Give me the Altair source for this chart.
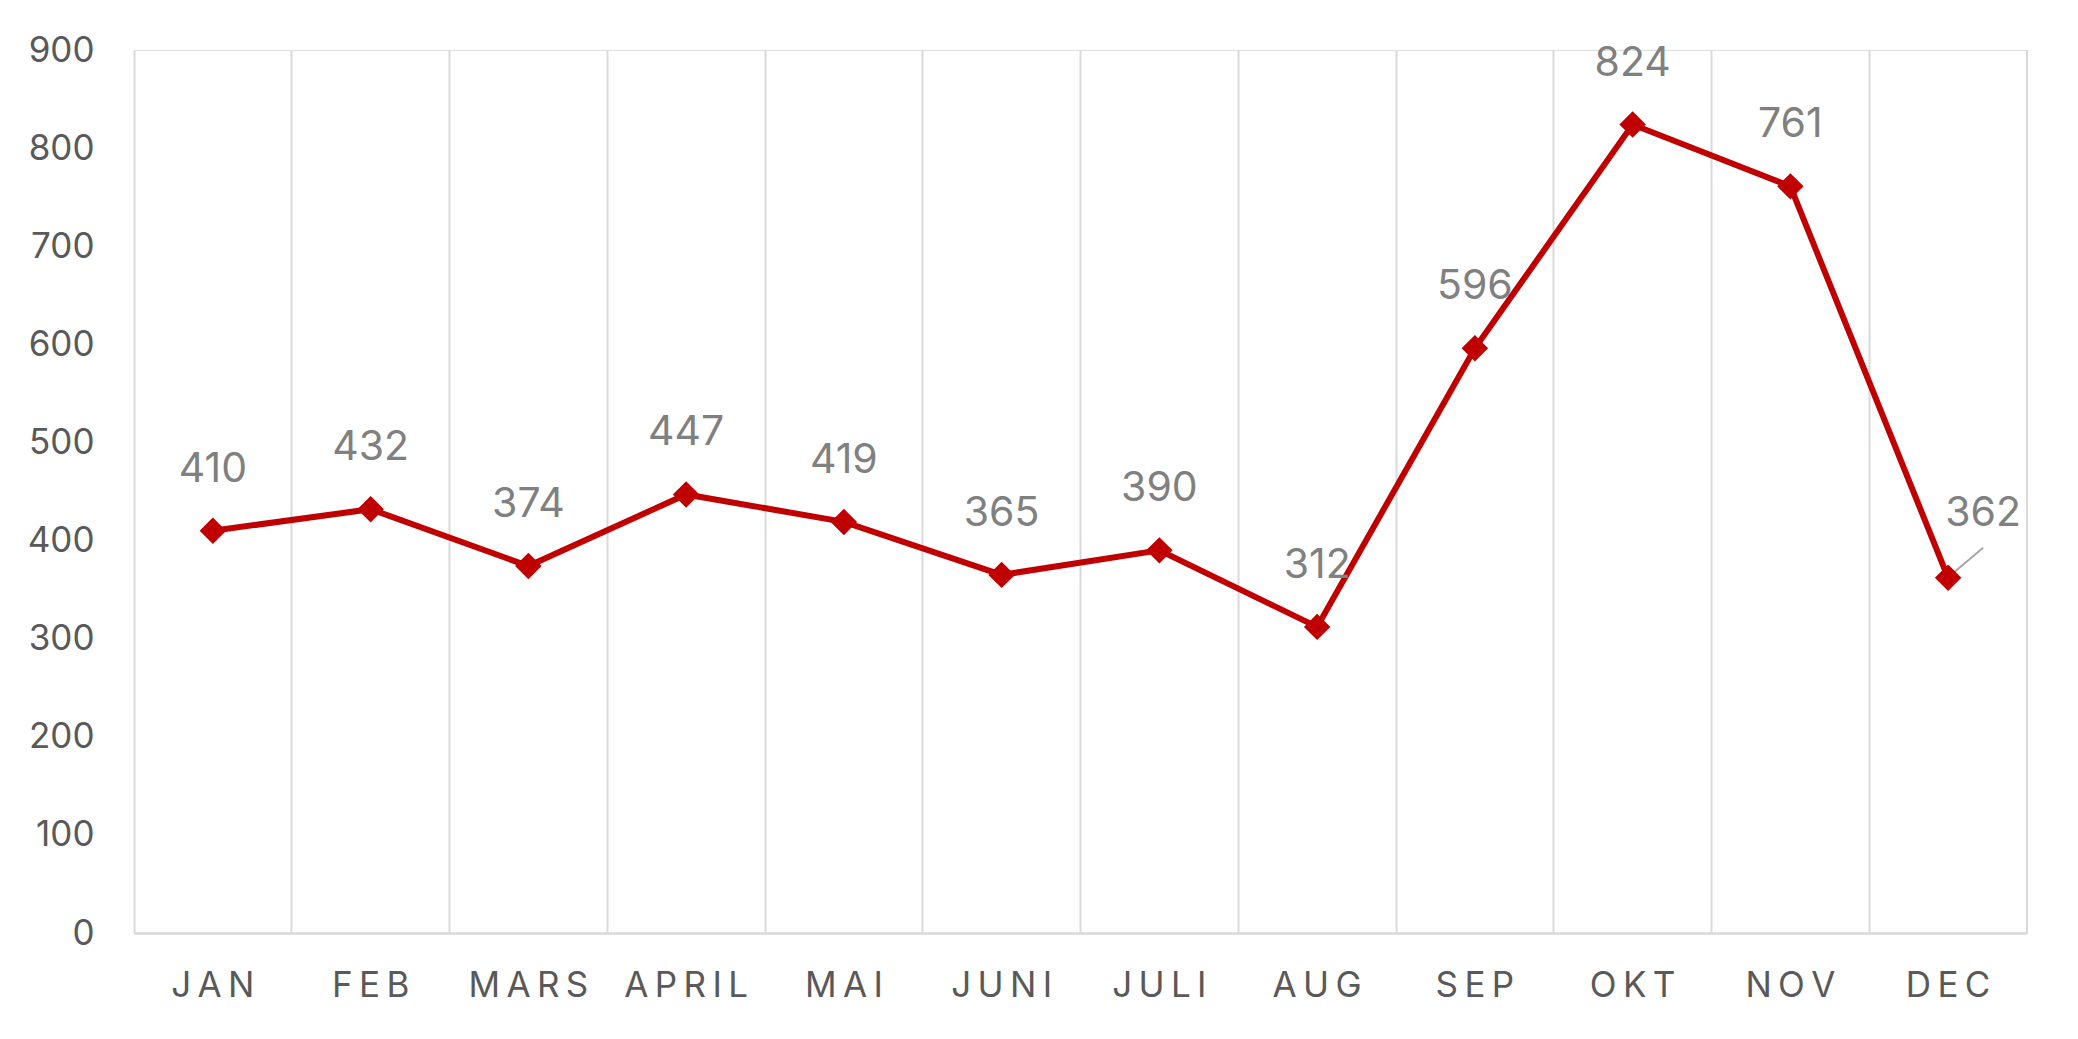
import altair as alt
import pandas as pd

months = ["JAN", "FEB", "MARS", "APRIL", "MAI", "JUNI", "JULI", "AUG", "SEP", "OKT", "NOV", "DEC"]
values = [410, 432, 374, 447, 419, 365, 390, 312, 596, 824, 761, 362]

df = pd.DataFrame({"month": months, "value": values})

W, H = 1893, 883
FONT = "Inter"

x_enc = alt.X(
    "month:N",
    sort=months,
    scale=alt.Scale(paddingInner=0, paddingOuter=0),
    axis=alt.Axis(
        title=None,
        bandPosition=0,
        grid=True,
        gridColor="#d9d9d9",
        gridWidth=2,
        ticks=False,
        domainColor="#d9d9d9",
        domainWidth=2.5,
        labelAngle=0,
        labelFont=FONT,
        labelFontSize=35,
        labelColor="#595959",
        labelPadding=35,
        labelExpr="join(split(datum.label, ''), '\u2009')",
    ),
)
y_enc = alt.Y(
    "value:Q",
    scale=alt.Scale(domain=[0, 900], nice=False),
    axis=alt.Axis(
        title=None,
        values=list(range(0, 901, 100)),
        grid=False,
        ticks=False,
        domain=False,
        labelFont=FONT,
        labelFontSize=35,
        labelColor="#595959",
        labelPadding=40,
    ),
)

base = alt.Chart(df).encode(x=x_enc, y=y_enc)

right_edge = alt.Chart(df).mark_rule(color="#d9d9d9", strokeWidth=2).encode(
    x=alt.value(W), y=alt.value(0), y2=alt.value(H)
)

line = base.mark_line(color="#C00000", strokeWidth=6)
points = base.mark_point(shape="diamond", filled=True, size=700, color="#C00000", opacity=1)

labels = base.transform_filter("datum.month != 'DEC'").mark_text(
    dy=-61, font=FONT, fontSize=41, color="#808080", baseline="middle"
).encode(text="value:Q")

dec_label = base.transform_filter("datum.month == 'DEC'").mark_text(
    dx=35, dy=-64, font=FONT, fontSize=41, color="#808080", baseline="middle"
).encode(text="value:Q")

leader = alt.Chart(df).transform_filter("datum.month == 'DEC'").mark_rule(
    color="#a6a6a6", strokeWidth=2, xOffset=3, yOffset=-3, x2Offset=35, y2Offset=-30
).encode(
    x=alt.X("month:N", sort=months),
    x2=alt.X2("month"),
    y="value:Q",
    y2=alt.Y2("value"),
)

chart = (
    alt.layer(right_edge, line, leader, points, labels, dec_label)
    .properties(
        width=W,
        height=H,
        autosize=alt.AutoSizeParams(type="none"),
        padding={"left": 126, "top": 42, "right": 40, "bottom": 90},
    )
    .configure_view(stroke=None)
    .configure(background="white")
)

chart.save("out.html", embed_options={"renderer": "svg", "actions": False})
